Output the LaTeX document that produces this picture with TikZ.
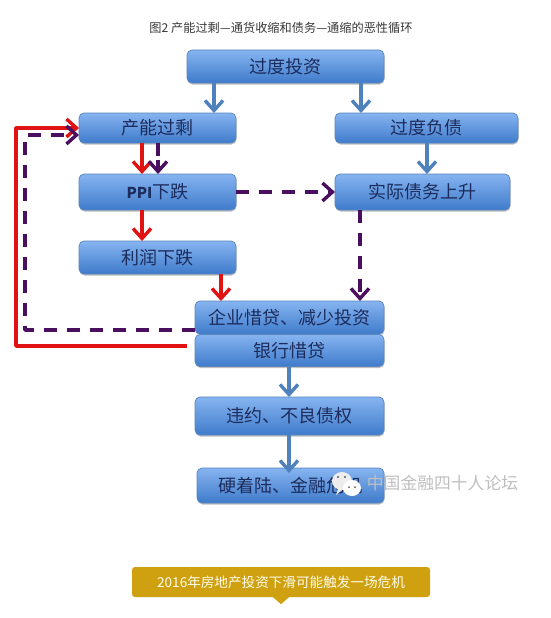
\documentclass[tikz,border=0pt]{standalone}
\usepackage{fontspec}
\setmainfont{Noto Sans CJK SC}
\usetikzlibrary{arrows.meta,shadows}
\definecolor{boxtop}{HTML}{86B4F0}
\definecolor{boxbot}{HTML}{3F7BCB}
\definecolor{boxline}{HTML}{5A86BE}
\definecolor{boxtext}{HTML}{1C2C5C}
\definecolor{flowblue}{HTML}{4F81BD}
\definecolor{flowred}{HTML}{E01212}
\definecolor{flowpurple}{HTML}{4B0F60}
\definecolor{bannergold}{HTML}{CFA00F}
\tikzset{
  flowbox/.style={draw=boxline,line width=.7pt,rounded corners=5pt,top color=boxtop,bottom color=boxbot,
    text=boxtext,font=\fontsize{18}{20}\selectfont,inner sep=0pt,outer sep=0pt,
    drop shadow={shadow xshift=.5pt,shadow yshift=-1.5pt,opacity=.25,fill=black}},
  barb/.style={-{Straight Barb[length=10pt,width=18pt,line width=3.4pt]}},
  blueflow/.style={barb,draw=flowblue,line width=4pt},
  redflow/.style={barb,draw=flowred,line width=3.6pt},
  purpleflow/.style={barb,draw=flowpurple,line width=3.4pt,dash pattern=on 13pt off 10pt},
  purpleshort/.style={barb,draw=flowpurple,line width=3.4pt,dash pattern=on 13pt off 4pt},
  purpleloop/.style={purpleflow,line join=round},
  redloop/.style={redflow,line join=round}
}
\begin{document}
\begin{tikzpicture}[x=1pt,y=-1pt]
\useasboundingbox (0,0) rectangle (550,618);
\fill[white] (0,0) rectangle (550,618);
\node[font=\fontsize{12.2}{13}\selectfont,text=black!78,inner sep=0pt] (title) at (281,28) {图2 产能过剩—通货收缩和债务—通缩的恶性循环};
\node[flowbox,minimum width=197pt,minimum height=33pt] (gdtz) at (285.5,66.5) {过度投资};
\node[flowbox,minimum width=157pt,minimum height=30pt] (cngs) at (157.5,128) {产能过剩};
\node[flowbox,minimum width=157pt,minimum height=36pt] (ppi) at (157.5,192) {{\bfseries\fontsize{15}{20}\selectfont PPI}下跌};
\node[flowbox,minimum width=157pt,minimum height=33pt] (lrxd) at (157.5,257.5) {利润下跌};
\node[flowbox,minimum width=183pt,minimum height=30pt] (gdfz) at (426.5,128) {过度负债};
\node[flowbox,minimum width=175pt,minimum height=36pt] (sjzw) at (422.5,192) {实际债务上升};
\node[flowbox,minimum width=189pt,minimum height=33pt] (qyxd) at (289.5,317.5) {企业惜贷、减少投资};
\node[flowbox,minimum width=189pt,minimum height=32pt] (yhxd) at (289.5,350.5) {银行惜贷};
\node[flowbox,minimum width=189pt,minimum height=38pt] (wybl) at (289.5,416) {违约、不良债权};
\node[flowbox,minimum width=187pt,minimum height=35pt] (yzl) at (290.5,485.5) {硬着陆、金融危机};
% reference x positions and free ends
\coordinate (xa) at (214,0);
\coordinate (xb) at (361,0);
\coordinate (xc) at (142,0);
\coordinate (xd) at (158,0);
\coordinate (xe) at (427,0);
\coordinate (xf) at (221,0);
\coordinate (xg) at (360,0);
\coordinate (xh) at (289,0);
\coordinate (redstart) at (187,346);
\coordinate (redcorner) at (16,346);
\coordinate (redtop) at (16,128);
\coordinate (purstart) at (195,330);
\coordinate (purcorner) at (25,330);
\coordinate (purtop) at (25,135);
% blue
\draw[blueflow] (gdtz.south -| xa) -- (cngs.north -| xa);
\draw[blueflow] (gdtz.south -| xb) -- (gdfz.north -| xb);
\draw[blueflow] (gdfz.south -| xe) -- (sjzw.north -| xe);
\draw[blueflow] (yhxd.south -| xh) -- (wybl.north -| xh);
\draw[blueflow] (wybl.south -| xh) -- ([yshift=-5pt]yzl.north -| xh);
% red
\draw[redflow] (cngs.south -| xc) -- (ppi.north -| xc);
\draw[redflow] (ppi.south -| xc) -- (lrxd.north -| xc);
\draw[redflow] (lrxd.south -| xf) -- (qyxd.north -| xf);
\draw[redloop] (redstart) -- (redcorner) -- (redtop) -- (cngs.west);
% purple
\draw[purpleshort] (cngs.south -| xd) -- (ppi.north -| xd);
\draw[purpleflow] (ppi.east) -- (sjzw.west);
\draw[purpleflow] (sjzw.south -| xg) -- (qyxd.north -| xg);
\draw[purpleloop] (purstart) -- (purcorner) -- (purtop) -- (cngs.west |- purtop);
% watermark
\node[font=\fontsize{16.8}{18}\selectfont,text=black!25,inner sep=0pt] (mark) at (442.5,483) {中国金融四十人论坛};
\fill[white!93!black] (342,481) ellipse (10pt and 9pt);
\fill[white!93!black] (338,489) -- (336,495) -- (343,489) -- cycle;
\fill[white] (352,488) ellipse (9pt and 8pt);
\fill[black!65] (338,477) circle (1.1pt) (345,477) circle (1.1pt) (349,487) circle (1pt) (355,487) circle (1pt);
% banner
\node[fill=bannergold,rounded corners=3pt,minimum width=298pt,minimum height=30pt,inner sep=0pt,text=white!92!yellow,font=\fontsize{13.6}{15}\selectfont] (banner) at (281,582) {2016年房地产投资下滑可能触发一场危机};
\fill[bannergold] ([xshift=-8pt]banner.south) -- ([yshift=-7pt]banner.south) -- ([xshift=8pt]banner.south) -- cycle;
\end{tikzpicture}
\end{document}
